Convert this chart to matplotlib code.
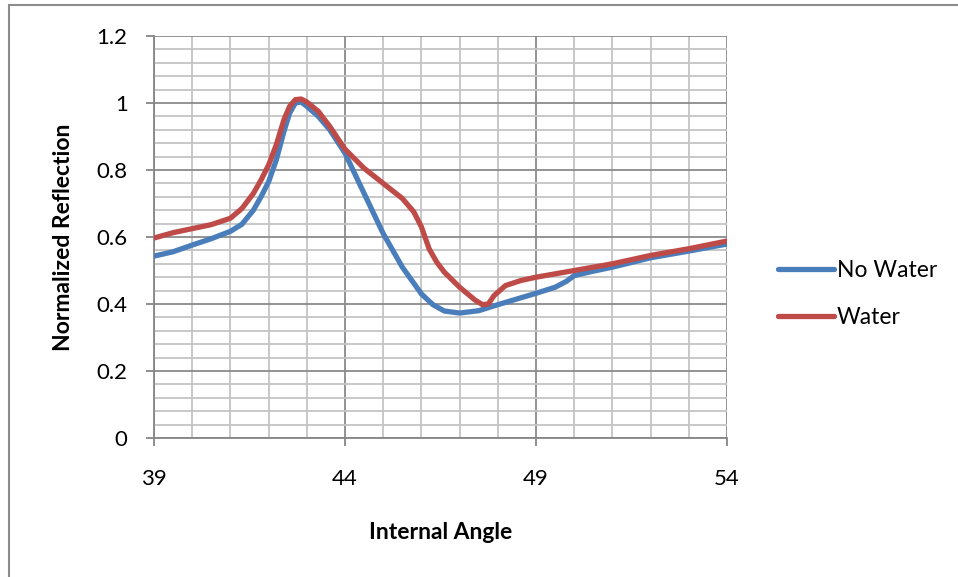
import numpy as np
import matplotlib
matplotlib.use('Agg')
import matplotlib.pyplot as plt
from matplotlib.patches import Rectangle
from matplotlib.ticker import MultipleLocator

plt.rcParams['font.family'] = ['Lato', 'DejaVu Sans']

# No Water curve
angle_dry = [39, 39.5, 40, 40.5, 41, 41.3, 41.6, 41.8, 42, 42.2, 42.4, 42.55, 42.7,
             42.85, 43, 43.3, 43.6, 44, 44.5, 45, 45.5, 46, 46.3, 46.6, 47, 47.5,
             48, 48.5, 49, 49.5, 49.8, 50, 50.5, 51, 52, 53, 54]
refl_dry = [0.543, 0.556, 0.576, 0.595, 0.617, 0.638, 0.68, 0.72, 0.765, 0.83, 0.915,
            0.97, 1.0, 1.003, 0.99, 0.96, 0.92, 0.85, 0.73, 0.61, 0.51, 0.43, 0.398,
            0.379, 0.373, 0.38, 0.398, 0.415, 0.432, 0.45, 0.468, 0.485, 0.498,
            0.51, 0.538, 0.558, 0.579]

# Water curve
angle_wet = [39, 39.5, 40, 40.5, 41, 41.3, 41.6, 41.8, 42, 42.2, 42.4, 42.55, 42.7,
             42.85, 43, 43.3, 43.6, 44, 44.5, 45, 45.5, 45.8, 46, 46.2, 46.4, 46.6,
             47, 47.4, 47.6, 47.75, 47.9, 48.2, 48.6, 49, 50, 51, 52, 53, 54]
refl_wet = [0.597, 0.613, 0.625, 0.637, 0.656, 0.685, 0.73, 0.77, 0.815, 0.875, 0.95,
            0.99, 1.01, 1.012, 1.003, 0.975, 0.93, 0.862, 0.805, 0.76, 0.715, 0.675,
            0.63, 0.565, 0.525, 0.495, 0.45, 0.412, 0.398, 0.4, 0.425, 0.455, 0.47,
            0.48, 0.5, 0.52, 0.545, 0.565, 0.588]

xticks = [39, 44, 49, 54]
yticks = [0, 0.2, 0.4, 0.6, 0.8, 1, 1.2]
ytick_labels = ['0', '0.2', '0.4', '0.6', '0.8', '1', '1.2']

fig = plt.figure(figsize=(9.58, 5.77), dpi=100)
ax = fig.add_axes([0.1608, 0.2409, 0.5981, 0.6967])

ax.plot(angle_dry, refl_dry, color='#4A7EBB', lw=3.8, label='No Water',
        solid_capstyle='round', solid_joinstyle='round', zorder=3)
ax.plot(angle_wet, refl_wet, color='#BE4B48', lw=3.8, label='Water',
        solid_capstyle='round', solid_joinstyle='round', zorder=4)

ax.set_xlim(39, 54)
ax.set_ylim(0, 1.2)
ax.set_xticks(xticks)
ax.set_xticklabels([str(t) for t in xticks])
ax.set_yticks(yticks)
ax.set_yticklabels(ytick_labels)
ax.xaxis.set_minor_locator(MultipleLocator(1))
ax.yaxis.set_minor_locator(MultipleLocator(0.04))

ax.grid(which='minor', color='#c4c4c4', lw=1.3)
ax.grid(which='major', color='#8a8a8a', lw=1.3)
ax.set_axisbelow(True)

for side in ['top', 'right']:
    ax.spines[side].set_visible(False)
for side in ['left', 'bottom']:
    ax.spines[side].set_color('#868686')
    ax.spines[side].set_linewidth(1.3)

ax.tick_params(which='major', direction='out', length=6, width=1.3, color='#868686',
               labelsize=16, labelcolor='black')
ax.tick_params(axis='y', pad=13)
ax.tick_params(axis='x', pad=16)
ax.tick_params(which='minor', length=0)

ax.set_xlabel('Internal Angle', fontsize=16.5, fontweight='bold', labelpad=24)
ax.set_ylabel('Normalized Reflection', fontsize=16.5, fontweight='bold', labelpad=16)

fig.legend(loc='center left', bbox_to_anchor=(0.812, 0.4905), frameon=False,
           fontsize=16.5, handlelength=2.45, handletextpad=0.12, labelspacing=1.15,
           borderpad=0, borderaxespad=0)

# chart area border (cut off at right and bottom)
fig.add_artist(Rectangle((0.0099, -0.05), 1.2, 1.0405, transform=fig.transFigure,
                         fill=False, edgecolor='#8c8c8c', lw=1.5, clip_on=False))

fig.savefig('out.png', dpi=100)
